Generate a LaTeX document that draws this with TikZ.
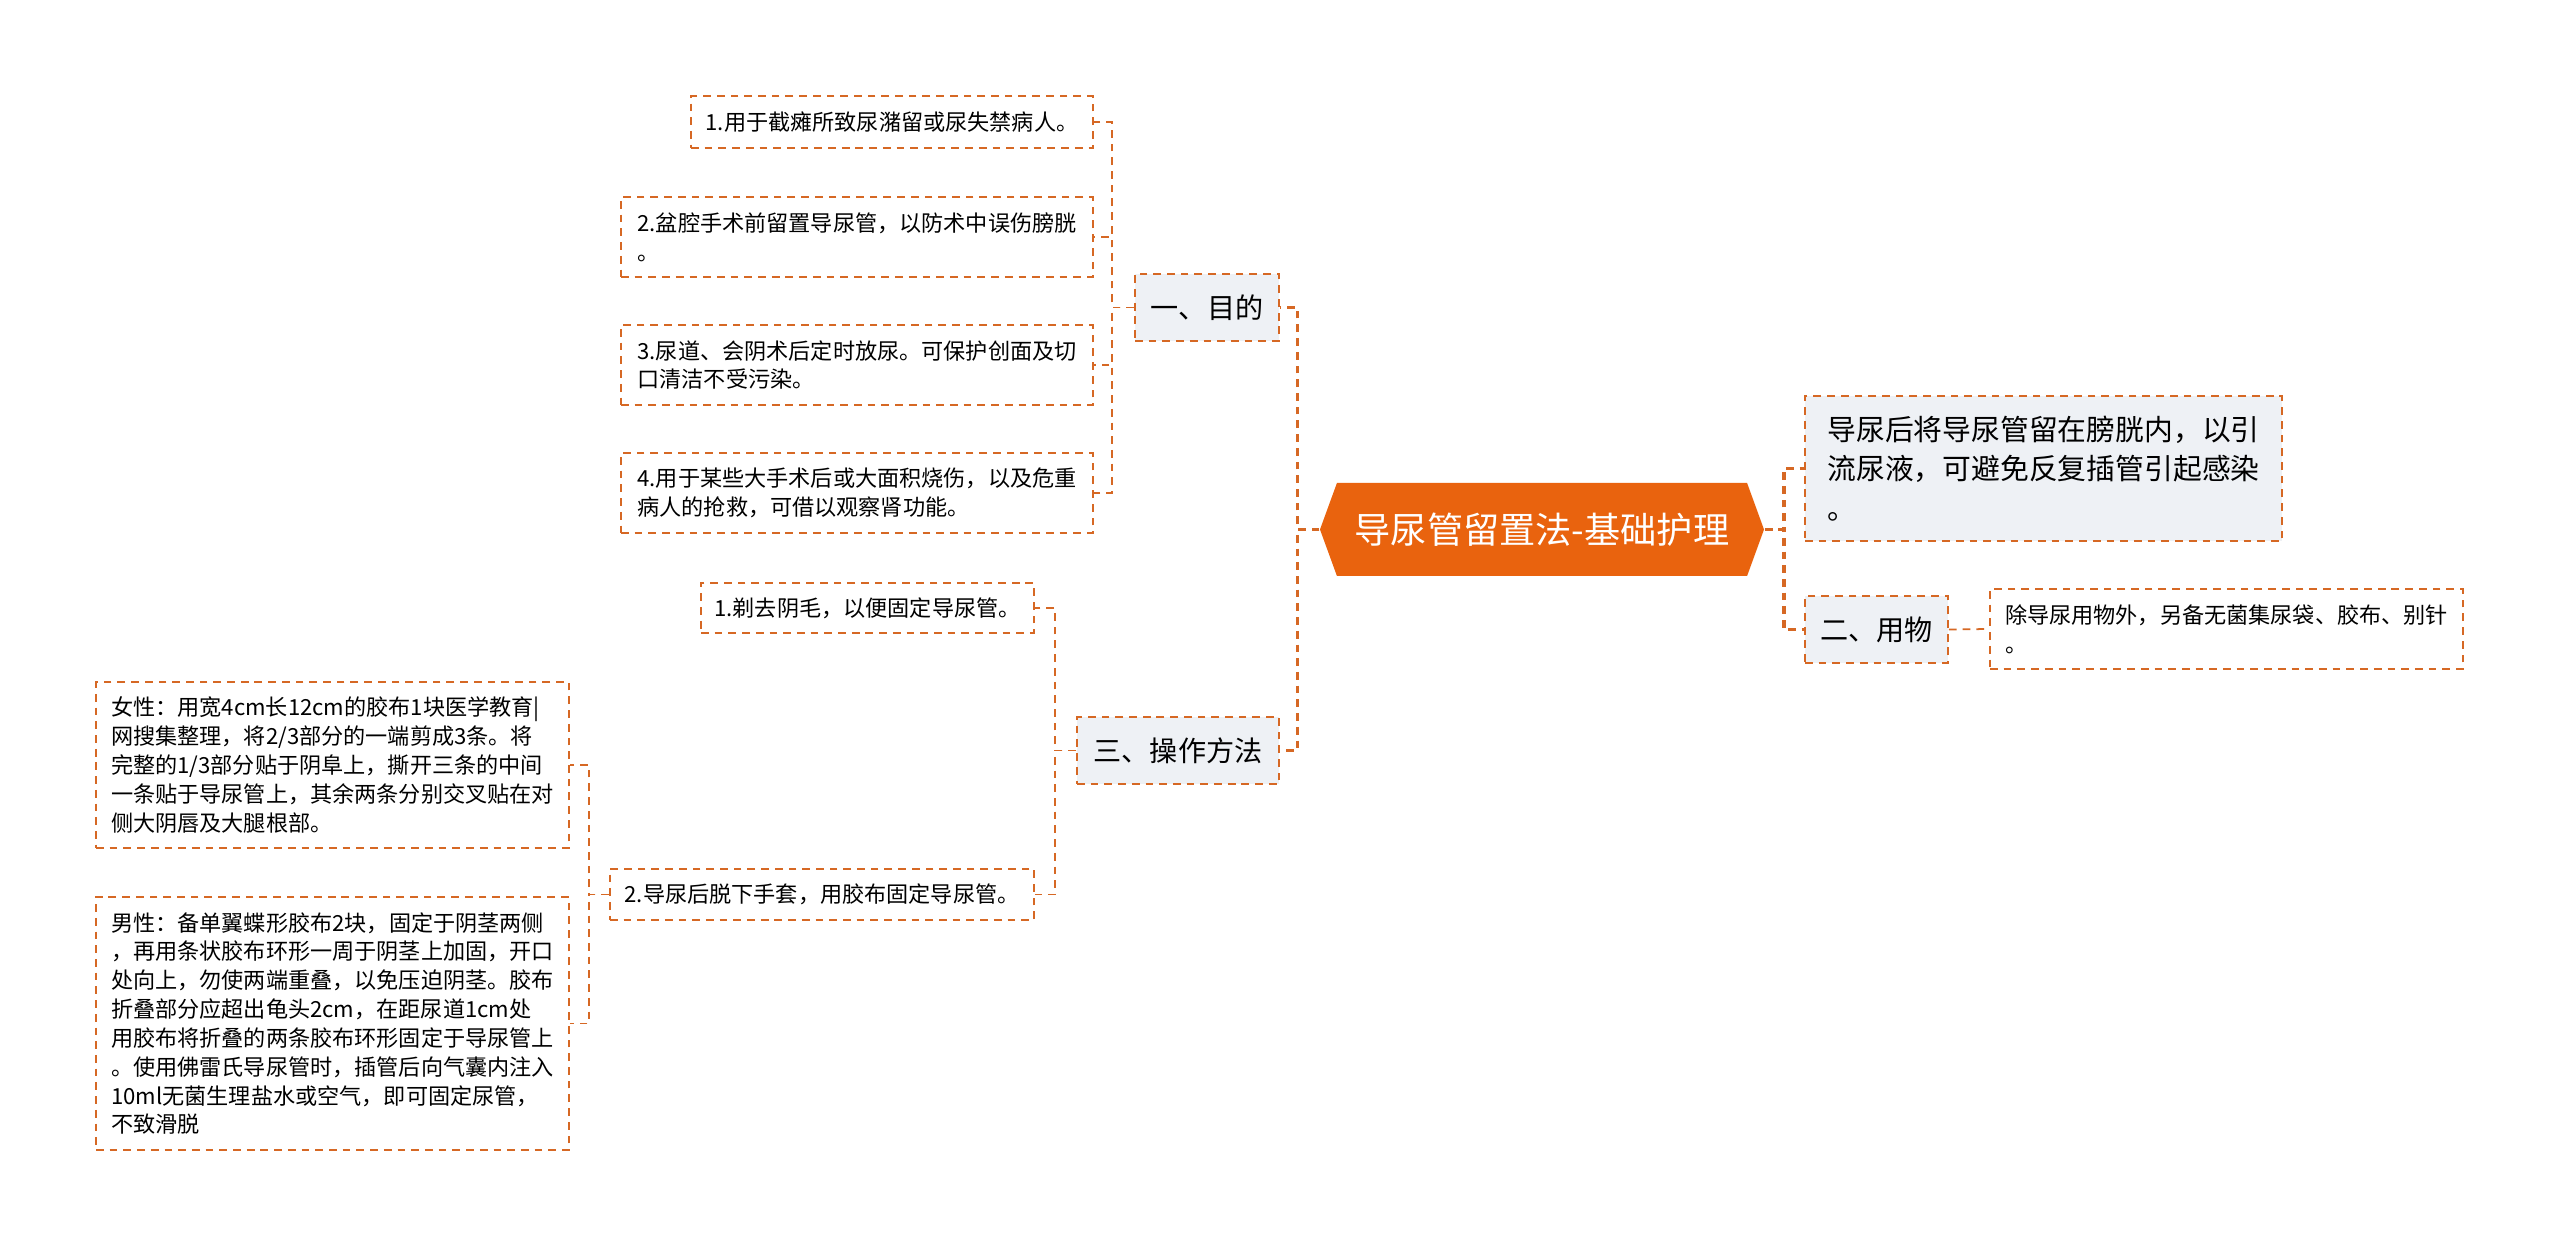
\documentclass[tikz,border=0pt]{standalone}
\usepackage{fontspec}
\setmainfont{Noto Sans CJK SC}
\usetikzlibrary{positioning, shapes.symbols}
\definecolor{rootorange}{RGB}{233, 99, 14}
\definecolor{linkorange}{RGB}{214, 104, 36}
\definecolor{topicgray}{RGB}{238, 241, 245}
\tikzset{
    rootbox/.style={shape=signal, signal to=west and east, signal pointer angle=140,
                fill=rootorange, text=white, inner sep=2pt,
                minimum width=#1, minimum height=0.93cm,
                font=\fontsize{10.3}{12}\selectfont},
    topicbox/.style={draw=linkorange, line width=0.55pt, dash pattern=on 2.2pt off 1.7pt,
                fill=topicgray, inner sep=2pt, minimum width=#1, minimum height=0.67cm,
                align=left, font=\fontsize{8}{11.3}\selectfont},
    leafbox/.style={draw=linkorange, line width=0.55pt, dash pattern=on 2.2pt off 1.7pt,
                fill=white, inner sep=2pt, minimum width=#1,
                align=left, font=\fontsize{6.3}{8.2}\selectfont},
    mainlink/.style={draw=linkorange, line width=1pt, dash pattern=on 2.2pt off 1.7pt},
    sublink/.style={draw=linkorange, line width=0.5pt, dash pattern=on 2.2pt off 1.7pt},
}

\begin{document}
\begin{tikzpicture}

    \fill[white] (0,0) rectangle (25.6,-12.48);
    \useasboundingbox (0,0) rectangle (25.6,-12.48);

    \node[rootbox=4.44cm] (root) at (15.42, -5.295) {导尿管留置法-基础护理};

    % 一、目的
    \node[topicbox=1.44cm] (mudi) at (12.07, -3.075) {一、目的};
    \node[leafbox=4.02cm, minimum height=0.52cm] (md1) at (8.92, -1.22) {1.用于截瘫所致尿潴留或尿失禁病人。};
    \node[leafbox=4.72cm, minimum height=0.80cm] (md2) at (8.57, -2.37) {2.盆腔手术前留置导尿管，以防术中误伤膀胱\\。};
    \node[leafbox=4.72cm, minimum height=0.80cm] (md3) at (8.57, -3.65) {3.尿道、会阴术后定时放尿。可保护创面及切\\口清洁不受污染。};
    \node[leafbox=4.72cm, minimum height=0.80cm] (md4) at (8.57, -4.93) {4.用于某些大手术后或大面积烧伤，以及危重\\病人的抢救，可借以观察肾功能。};

    \draw[mainlink] (root.west) -- ++(-0.22,0) |- (mudi.east);
    \draw[sublink] (mudi.west) -- ++(-0.22,0) |- (md1.east);
    \draw[sublink] (mudi.west) -- ++(-0.22,0) |- (md2.east);
    \draw[sublink] (mudi.west) -- ++(-0.22,0) |- (md3.east);
    \draw[sublink] (mudi.west) -- ++(-0.22,0) |- (md4.east);

    % 三、操作方法
    \node[topicbox=2.02cm] (caozuo) at (11.78, -7.505) {三、操作方法};
    \node[leafbox=3.33cm, minimum height=0.50cm] (cz1) at (8.675, -6.08) {1.剃去阴毛，以便固定导尿管。};
    \node[leafbox=4.24cm, minimum height=0.51cm] (cz2) at (8.22, -8.945) {2.导尿后脱下手套，用胶布固定导尿管。};
    \node[leafbox=4.73cm, minimum height=1.66cm] (nvxing) at (3.325, -7.65) {女性：用宽4cm长12cm的胶布1块医学教育|\\网搜集整理，将2/3部分的一端剪成3条。将\\完整的1/3部分贴于阴阜上，撕开三条的中间\\一条贴于导尿管上，其余两条分别交叉贴在对\\侧大阴唇及大腿根部。};
    \node[leafbox=4.73cm, minimum height=2.53cm] (nanxing) at (3.325, -10.235) {男性：备单翼蝶形胶布2块，固定于阴茎两侧\\，再用条状胶布环形一周于阴茎上加固，开口\\处向上，勿使两端重叠，以免压迫阴茎。胶布\\折叠部分应超出龟头2cm，在距尿道1cm处\\用胶布将折叠的两条胶布环形固定于导尿管上\\。使用佛雷氏导尿管时，插管后向气囊内注入\\10ml无菌生理盐水或空气，即可固定尿管，\\不致滑脱};

    \draw[mainlink] (root.west) -- ++(-0.22,0) |- (caozuo.east);
    \draw[sublink] (caozuo.west) -- ++(-0.21,0) |- (cz1.east);
    \draw[sublink] (caozuo.west) -- ++(-0.21,0) |- (cz2.east);
    \draw[sublink] (cz2.west) -- ++(-0.20,0) |- (nvxing.east);
    \draw[sublink] (cz2.west) -- ++(-0.20,0) |- (nanxing.east);

    % right side
    \node[topicbox=4.77cm, minimum height=1.45cm, fill=topicgray, font=\fontsize{8.2}{11.3}\selectfont] (liuzhi) at (20.435, -4.685) {导尿后将导尿管留在膀胱内，以引\\流尿液，可避免反复插管引起感染\\。};
    \node[topicbox=1.43cm] (yongwu) at (18.765, -6.295) {二、用物};
    \node[leafbox=4.73cm, minimum height=0.80cm] (yw1) at (22.265, -6.29) {除导尿用物外，另备无菌集尿袋、胶布、别针\\。};

    \draw[mainlink] (root.east) -- ++(0.19,0) |- (liuzhi.west);
    \draw[mainlink] (root.east) -- ++(0.19,0) |- (yongwu.west);
    \draw[sublink] (yongwu.east) -- (yw1.west);

\end{tikzpicture}
\end{document}
